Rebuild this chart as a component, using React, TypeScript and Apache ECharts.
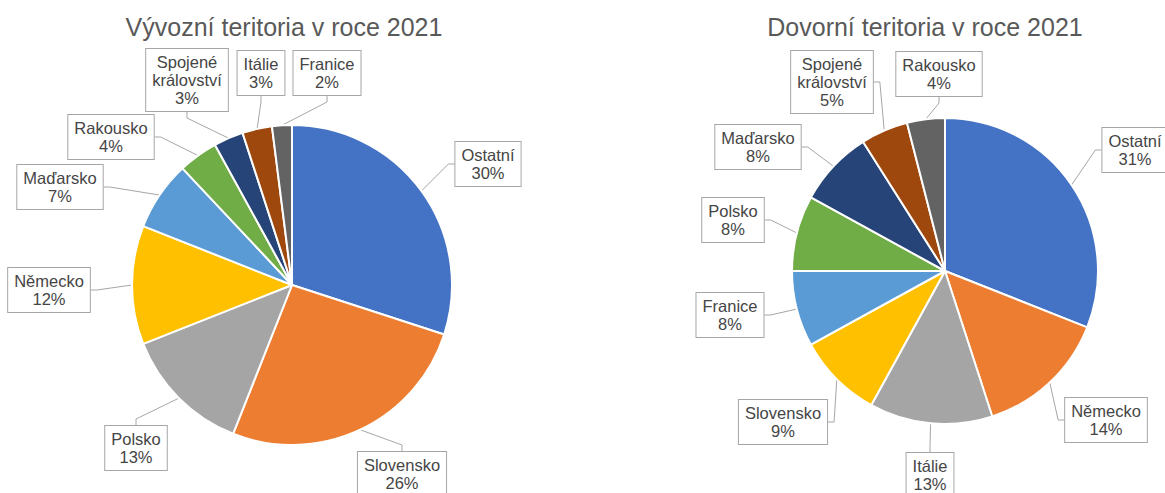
import React, { useEffect, useRef } from "react";
import * as echarts from "echarts";

const exportTitle = "Vývozní teritoria v roce 2021";
const importTitle = "Dovorní teritoria v roce 2021";

const exportNames = ["Ostatní", "Slovensko", "Polsko", "Německo", "Maďarsko", "Rakousko", "Spojené království", "Itálie", "Franice"];
const exportValues = [30, 26, 13, 12, 7, 4, 3, 3, 2];

const importNames = ["Ostatní", "Německo", "Itálie", "Slovensko", "Franice", "Polsko", "Maďarsko", "Spojené království", "Rakousko"];
const importValues = [31, 14, 13, 9, 8, 8, 8, 5, 4];

const sliceColors = ["#4472C4", "#ED7D31", "#A5A5A5", "#FFC000", "#5B9BD5", "#70AD47", "#264478", "#9E480E", "#636363"];

// label box centres (layout only)
const exportLabelPos = [[488, 164], [402, 474], [136, 448], [49, 290], [60, 187], [111, 137], [187, 80], [261, 73], [327, 73]];
const importLabelPos = [[1135, 150], [1106, 420], [930, 475], [783, 422], [730, 315], [733, 220], [758, 147], [832, 82], [939, 74]];

const FONT = "'Liberation Sans', Arial, sans-serif";

function makePie(names: string[], values: number[], center: number[], radius: number, pos: number[][]) {
  return {
    type: "pie",
    center,
    radius,
    startAngle: 90,
    clockwise: true,
    avoidLabelOverlap: false,
    data: names.map((n, i) => ({ name: n, value: values[i], itemStyle: { color: sliceColors[i] } })),
    itemStyle: { borderColor: "#ffffff", borderWidth: 2 },
    label: {
      show: true,
      position: "outside",
      formatter: (p: any) => `${p.name.replace(" ", "\n")}\n${p.value}%`,
      color: "#454545",
      fontSize: 16.5,
      fontFamily: FONT,
      lineHeight: 18,
      align: "center",
      backgroundColor: "#ffffff",
      borderColor: "#A6A6A6",
      borderWidth: 1,
      padding: [4, 6, 4, 6],
    },
    labelLine: {
      show: true,
      length: 10,
      length2: 6,
      smooth: false,
      lineStyle: { color: "#A6A6A6", width: 1 },
    },
    labelLayout: (params: any) => {
      const p = pos[params.dataIndex];
      return { x: p[0], y: p[1], align: "center", verticalAlign: "middle" };
    },
    emphasis: { disabled: true },
  };
}

export default function App() {
  const ref = useRef<HTMLDivElement>(null);
  useEffect(() => {
    document.body.style.margin = "0";
    if (!ref.current) return;
    const chart = echarts.init(ref.current, undefined, { renderer: "svg" });
    const titleStyle = { fontSize: 25, fontWeight: "normal", color: "#595959", fontFamily: FONT };
    chart.setOption({
      animation: false,
      backgroundColor: "#ffffff",
      title: [
        {
          text: exportTitle,
          left: 284,
          top: 27,
          padding: 0,
          textAlign: "center",
          textVerticalAlign: "middle",
          textStyle: titleStyle,
        },
        {
          text: importTitle,
          left: 925,
          top: 27,
          padding: 0,
          textAlign: "center",
          textVerticalAlign: "middle",
          textStyle: titleStyle,
        },
      ],
      series: [
        makePie(exportNames, exportValues, [292, 285], 160, exportLabelPos),
        makePie(importNames, importValues, [945, 271], 153, importLabelPos),
      ],
    });
    return () => chart.dispose();
  }, []);
  return <div ref={ref} style={{ width: 1165, height: 493 }} />;
}
